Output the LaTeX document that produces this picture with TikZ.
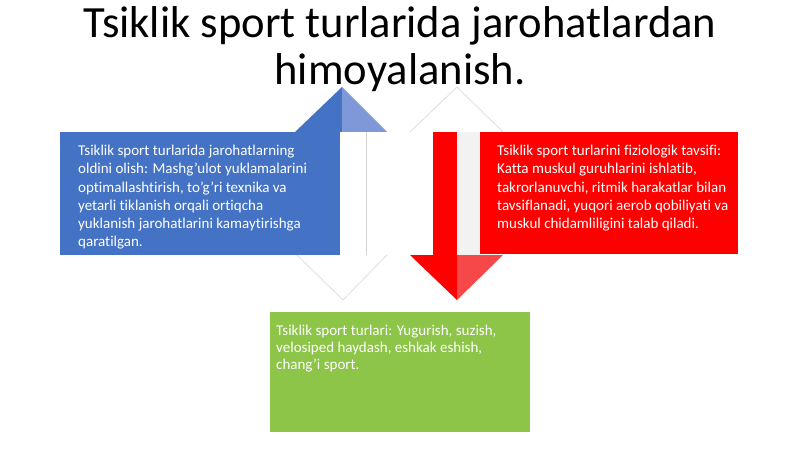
\documentclass[tikz,border=0pt]{standalone}
\usepackage{fontspec}
\setmainfont{Carlito}[Ligatures={NoCommon}]
\definecolor{boxblue}{RGB}{68,114,196}
\definecolor{headblue}{RGB}{126,152,216}
\definecolor{boxred}{RGB}{255,0,0}
\definecolor{headred}{RGB}{246,72,72}
\definecolor{boxgreen}{RGB}{140,197,72}
\tikzset{
    bx/.style={fill=#1, draw=none, inner sep=0pt, anchor=north west},
    txt/.style={text=white, font=\fontsize{15}{18.2}\selectfont, align=left, inner sep=0pt, anchor=north west},
    hw/.style={fill=white, draw=gray!25, line width=0.8pt}
}

\begin{document}
\begin{tikzpicture}[x=1pt, y=-1pt]
\useasboundingbox (0,0) rectangle (800,449);
\fill[white] (0,0) rectangle (800,449);

% Title
\node[font=\fontsize{44.6}{47}\selectfont, align=center, anchor=north, inner sep=0pt] (T) at (400,6)
    {Tsiklik sport turlarida jarohatlardan\\himoyalanish.};

% Blue arrow (up)
\fill[boxblue] (295,132) -- (342,87) -- (342,132) -- cycle;
\fill[headblue] (342,87) -- (387,132) -- (342,132) -- cycle;
\fill[white] (340,132) rectangle (366,255);
\draw[gray!35, line width=0.8pt] (366,132) -- (366,255);
\draw[hw] (297,255) -- (343,300) -- (387,255);

% Red arrow (down)
\draw[hw] (410,132) -- (457,87) -- (503,132);
\fill[boxred] (433,132) rectangle (457,255);
\fill[gray!10] (457,132) rectangle (480,255);
\fill[boxred] (410,255) -- (457,300) -- (457,255) -- cycle;
\fill[headred] (457,300) -- (503,255) -- (457,255) -- cycle;

% Boxes
\node[bx=boxblue, minimum width=280pt, minimum height=123pt] (BL) at (60,132) {};
\node[bx=boxred, minimum width=258pt, minimum height=122pt] (RD) at (480,132) {};
\node[bx=boxgreen, minimum width=260pt, minimum height=120pt] (GR) at (270,312) {};

% Texts
\node[txt] (BLt) at (78,145) {Tsiklik sport turlarida jarohatlarning\\
    oldini olish: Mashg'ulot yuklamalarini\\
    optimallashtirish, to'g'ri texnika va\\
    yetarli tiklanish orqali ortiqcha\\
    yuklanish jarohatlarini kamaytirishga\\
    qaratilgan.};
\node[txt] (RDt) at (497,145) {Tsiklik sport turlarini fiziologik tavsifi:\\
    Katta muskul guruhlarini ishlatib,\\
    takrorlanuvchi, ritmik harakatlar bilan\\
    tavsiflanadi, yuqori aerob qobiliyati va\\
    muskul chidamliligini talab qiladi.};
\node[txt, font=\fontsize{15}{16.7}\selectfont] (GRt) at (276,325) {Tsiklik sport turlari: Yugurish, suzish,\\
    velosiped haydash, eshkak eshish,\\
    chang'i sport.};

\end{tikzpicture}
\end{document}
